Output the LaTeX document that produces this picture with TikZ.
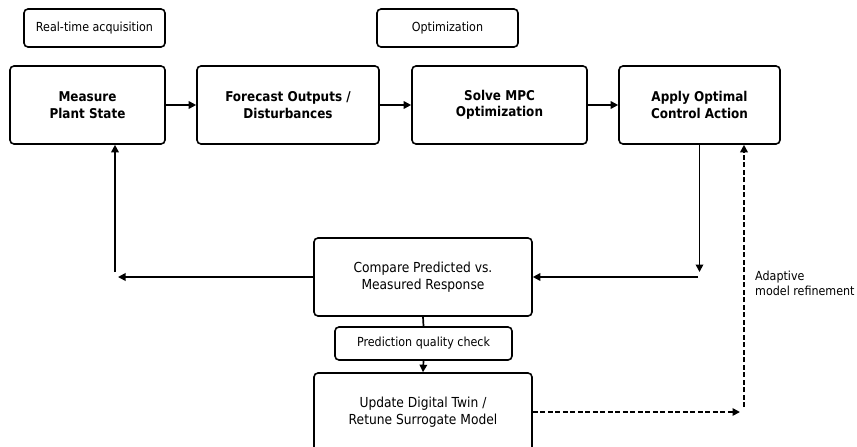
\documentclass[tikz,border=0pt]{standalone}
\usepackage{fontspec}
\setmainfont{DejaVu Sans}[FakeStretch=0.89]
\usetikzlibrary{arrows.meta}
\begin{document}
\begin{tikzpicture}[x=1pt, y=-1pt,
    box/.style={draw, line width=1.6pt, rounded corners=4pt, align=center, inner sep=0pt, minimum height=78pt},
    tag/.style={draw, line width=1.6pt, rounded corners=4pt, align=center, inner sep=0pt, font=\fontsize{12.5}{15}\selectfont},
    main/.style={box, font=\bfseries\fontsize{13.5}{16.5}\selectfont},
    sub/.style={box, font=\fontsize{13.8}{16.8}\selectfont},
    flow/.style={line width=1.7pt, -{Triangle[length=7.5pt, width=7.5pt]}},
    link/.style={line width=1.7pt},
    adapt/.style={flow, dash pattern=on 5pt off 2.5pt}]
    \useasboundingbox (0,0) rectangle (857,447);
    \node[tag, minimum width=141pt, minimum height=38pt] (rtacq) at (94.5,28) {Real-time acquisition};
    \node[tag, minimum width=141pt, minimum height=38pt] (optim) at (447.5,28) {Optimization};
    \node[main, minimum width=155pt] (measure) at (87.5,105) {Measure\\Plant State};
    \node[main, minimum width=182pt] (forecast) at (288,105) {Forecast Outputs /\\Disturbances};
    \node[main, minimum width=175pt] (solve) at (499.5,105) {Solve MPC\\Optimization};
    \node[main, minimum width=161pt] (apply) at (699.5,105) {Apply Optimal\\Control Action};
    \node[sub, minimum width=218pt] (compare) at (423,277) {Compare Predicted vs.\\Measured Response};
    \node[tag, minimum width=177pt, minimum height=33pt] (check) at (423.5,343.5) {Prediction quality check};
    \node[sub, minimum width=218pt] (update) at (423,412) {Update Digital Twin /\\Retune Surrogate Model};
    \node[anchor=west, align=left, inner sep=0pt, font=\fontsize{12.5}{15}\selectfont] (adlabel) at (755,283.5) {Adaptive\\model refinement};
    \coordinate (rdrop) at (699.5,272);
    \coordinate (rturn) at (698,277);
    \coordinate (lturn) at (118,277);
    \coordinate (lrise) at (115,272);
    \coordinate (dturn) at (740,412);
    \coordinate (drise) at (744,407);
    \draw[flow] (measure) -- (forecast);
    \draw[flow] (forecast) -- (solve);
    \draw[flow] (solve) -- (apply);
    \draw[flow] (apply.south) -- (rdrop);
    \draw[flow] (rturn) -- (compare.east);
    \draw[flow] (compare.west) -- (lturn);
    \draw[flow] (lrise) -- (lrise |- measure.south);
    \draw[link] (compare.south) -- (check.north);
    \draw[flow] (check.south) -- (update.north);
    \draw[adapt] (update.east) -- (dturn);
    \draw[adapt] (drise) -- (drise |- apply.south);
\end{tikzpicture}
\end{document}
